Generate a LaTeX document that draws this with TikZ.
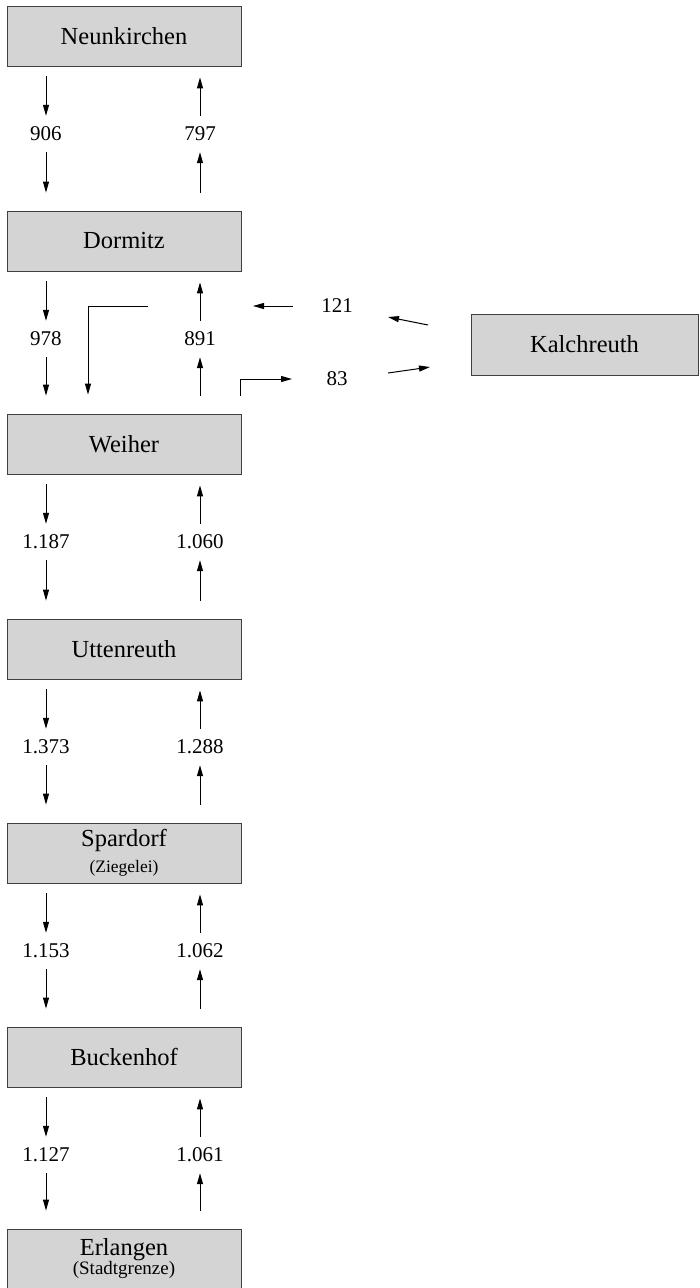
\documentclass[tikz,border=0pt]{standalone}
\usepackage{fontspec}
\setmainfont{Liberation Serif}
\usetikzlibrary{arrows.meta}
\tikzset{
  box/.style={draw=black!75, line width=0.8pt, fill=black!17, minimum width=234pt, minimum height=60pt, inner sep=0pt, align=center, font=\fontsize{24.5}{26}\selectfont},
  num/.style={inner sep=0pt, minimum height=36pt, font=\fontsize{21}{23}\selectfont},
  arr/.style={-{Triangle[length=11pt,width=6pt]}, line width=1pt}
}
\begin{document}
\begin{tikzpicture}[x=1pt,y=-1pt]
\useasboundingbox (0,0) rectangle (700,1288);
\fill[white] (0,0) rectangle (700,1288);
% boxes
\node[box] (neun) at (124,36) {Neunkirchen};
\node[box] (dorm) at (124,241) {Dormitz};
\node[box] (weih) at (124,444) {Weiher};
\node[box] (utt)  at (124,649) {Uttenreuth};
\node[box] (spar) at (124,853) {Spardorf\\[0pt]{\fontsize{17.5}{19}\selectfont(Ziegelei)}};
\node[box] (buck) at (124,1057) {Buckenhof};
\node[box] (erl)  at (124,1259) {Erlangen\\[-7pt]{\fontsize{19}{21}\selectfont(Stadtgrenze)}};
\node[box, minimum width=227pt, minimum height=61pt] (kal) at (584.5,344.5) {Kalchreuth};
% vertical flows
\foreach \a/\b/\y/\l/\r/\i in {neun/dorm/134/906/797/1, dorm/weih/339/978/891/2, weih/utt/542/1.187/1.060/3, utt/spar/747/1.373/1.288/4, spar/buck/951/1.153/1.062/5, buck/erl/1155/1.127/1.061/6}{
  \node[num] (d\i) at (46,\y) {\l};
  \node[num] (u\i) at (200,\y) {\r};
  \draw[arr, shorten <=10pt] (\a.south -| d\i) -- (d\i.north);
  \draw[arr, shorten >=18pt] (d\i.south) -- (\b.north -| d\i);
  \draw[arr, shorten <=18pt] (\b.north -| u\i) -- (u\i.south);
  \draw[arr, shorten >=11pt] (u\i.north) -- (\a.south -| u\i);
}
% Kalchreuth exchange
\node[num] (n121) at (337,306) {121};
\node[num] (n83) at (337,379) {83};
\coordinate (c88) at (88,0);
\coordinate (k1s) at (148,306);
\draw[arr, shorten >=19pt] (k1s) -| (weih.north -| c88);
\coordinate (a121s) at (293,306);
\coordinate (a121e) at (253,306);
\draw[arr] (a121s) -- (a121e);
\coordinate (kal1s) at (428,325);
\coordinate (kal1e) at (388,317);
\draw[arr] (kal1s) -- (kal1e);
\coordinate (b83s) at (240,396);
\coordinate (b83e) at (292,379);
\draw[arr] (b83s) |- (b83e);
\coordinate (kal2s) at (388,373);
\coordinate (kal2e) at (430,367);
\draw[arr] (kal2s) -- (kal2e);
\end{tikzpicture}
\end{document}
